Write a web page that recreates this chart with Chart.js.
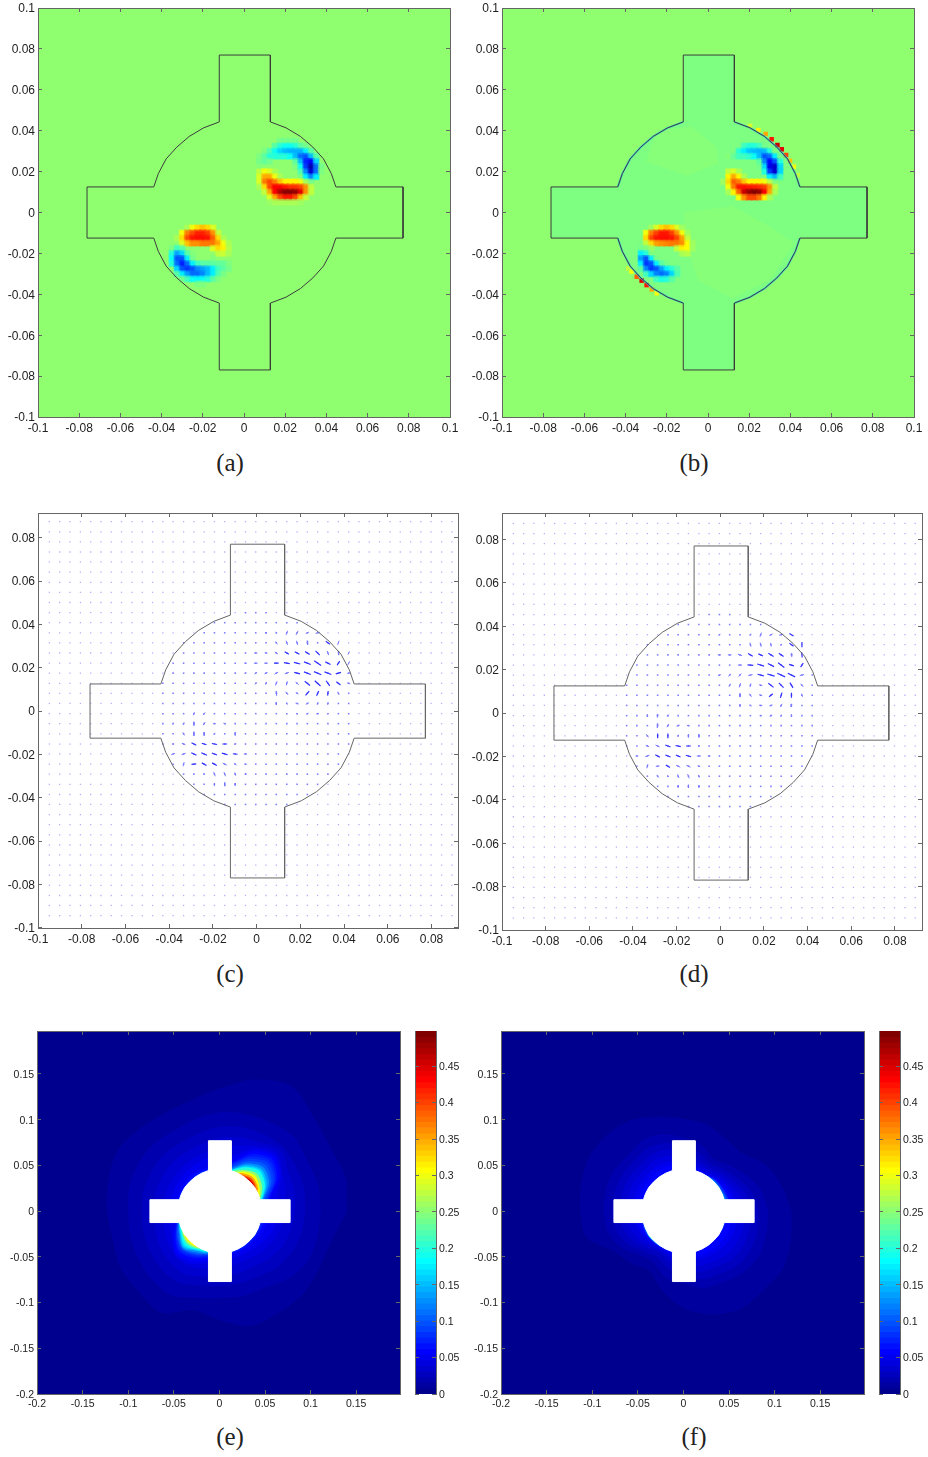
<!DOCTYPE html>
<html>
<head>
<meta charset="utf-8">
<title>chart</title>
<script src="https://cdn.jsdelivr.net/npm/chart.js@4"></script>
<style>
  body { margin: 0; background: #fff; }
  #page { position: relative; width: 928px; height: 1457px; overflow: hidden; }
  canvas { position: absolute; }
  .cap { position: absolute; width: 60px; text-align: center; font: 25px "Liberation Serif", serif; color: #222; }
</style>
</head>
<body>
<div id="page"></div>
<script>
// tick labels
const ticksAB = [-0.1, -0.08, -0.06, -0.04, -0.02, 0, 0.02, 0.04, 0.06, 0.08, 0.1];
const ticksCDx = [-0.1, -0.08, -0.06, -0.04, -0.02, 0, 0.02, 0.04, 0.06, 0.08];
const ticksCDy = [-0.1, -0.08, -0.06, -0.04, -0.02, 0, 0.02, 0.04, 0.06, 0.08];
const ticksEF = [-0.2, -0.15, -0.1, -0.05, 0, 0.05, 0.1, 0.15];
const ticksBar = [0, 0.05, 0.1, 0.15, 0.2, 0.25, 0.3, 0.35, 0.4, 0.45];
const captions = ['(a)', '(b)', '(c)', '(d)', '(e)', '(f)'];

// device outline
const outlineX = [-0.012,0.0128,0.0128,0.0204,0.0274,0.0334,0.0386,0.0424,0.0446,0.0772,0.0772,0.0446,0.0424,0.0386,0.0334,0.0274,0.0204,0.0128,0.0128,-0.012,-0.012,-0.0196,-0.0266,-0.0326,-0.0378,-0.0416,-0.0438,-0.0762,-0.0762,-0.0438,-0.0416,-0.0378,-0.0326,-0.0266,-0.0196,-0.012,-0.012];
const outlineY = [0.077,0.077,0.0443,0.0414,0.0372,0.032,0.0262,0.019,0.0125,0.0125,-0.0125,-0.0125,-0.019,-0.0262,-0.032,-0.0372,-0.0414,-0.0443,-0.077,-0.077,-0.0443,-0.0414,-0.0372,-0.032,-0.0262,-0.019,-0.0125,-0.0125,0.0125,0.0125,0.019,0.0262,0.032,0.0372,0.0414,0.0443,0.077];

// field cells of panels a and b, sign scale -1..1
const colsTR = [0.0075,0.01,0.0125,0.015,0.0175,0.02,0.0225,0.025,0.0275,0.03,0.0325,0.035,0.0375];
const rowsTR = [0.035,0.0325,0.03,0.0275,0.025,0.0225,0.02,0.0175,0.015,0.0125,0.01,0.0075,0.005];
const colsLL = [-0.035,-0.0325,-0.03,-0.0275,-0.025,-0.0225,-0.02,-0.0175,-0.015,-0.0125,-0.01,-0.0075,-0.005];
const rowsLL = [-0.0075,-0.01,-0.0125,-0.015,-0.0175,-0.02,-0.0225,-0.025,-0.0275,-0.03,-0.0325,-0.035];

const fieldA_TR = [
  [0,0,0,0,-.05,-.05,-.05,-.05,0,0,0,0,0],
  [0,0,0,-.1,-.2,-.25,-.25,-.2,-.1,-.05,0,0,0],
  [0,-.03,-.12,-.25,-.35,-.4,-.42,-.42,-.42,-.3,-.1,0,0],
  [-.03,-.1,-.2,-.2,-.2,-.2,-.25,-.4,-.55,-.6,-.4,-.1,0],
  [-.05,-.08,-.05,0,0,0,0,-.1,-.4,-.7,-.75,-.35,0],
  [-.02,0,0,0,0,0,0,-.03,-.25,-.65,-.9,-.55,-.05],
  [.1,.2,.15,.05,0,0,0,0,-.12,-.5,-.85,-.55,-.03],
  [.15,.4,.4,.2,.05,0,0,0,-.03,-.3,-.5,-.3,0],
  [.15,.5,.6,.5,.35,.25,.25,.25,.2,.05,-.05,0,0],
  [.05,.3,.6,.75,.75,.7,.65,.65,.6,.45,.1,0,0],
  [0,.1,.4,.75,.9,.98,.98,.95,.8,.45,.1,0,0],
  [0,0,.15,.4,.6,.7,.7,.6,.35,.1,0,0,0],
  [0,0,.02,.05,.05,.05,.05,.05,.03,0,0,0,0]
];
const fieldA_LL = [
  [0,0,0,.05,.2,.3,.35,.3,.15,0,0,0,0],
  [0,0,.2,.5,.6,.68,.68,.62,.45,.1,0,0,0],
  [0,.05,.3,.6,.7,.72,.72,.7,.55,.3,.05,0,0],
  [0,0,.15,.35,.45,.45,.5,.5,.5,.4,.2,.05,0],
  [-.03,-.15,-.1,0,0,0,0,0,.15,.3,.25,.08,0],
  [-.2,-.45,-.35,-.1,-.02,0,0,0,0,.1,.12,.05,0],
  [-.25,-.6,-.6,-.3,-.05,0,0,0,-.02,0,0,0,0],
  [-.2,-.55,-.7,-.55,-.3,-.15,-.1,-.1,-.1,-.08,-.08,-.03,0],
  [0,-.35,-.6,-.65,-.6,-.5,-.45,-.4,-.3,-.15,-.1,-.05,0],
  [0,-.1,-.3,-.45,-.55,-.55,-.5,-.4,-.3,-.12,-.04,0,0],
  [0,0,-.05,-.15,-.25,-.28,-.25,-.2,-.1,-.03,0,0,0],
  [0,0,0,0,0,-.03,-.03,0,0,0,0,0,0]
];
const fieldB_TR = [
  [0,0,0,0,0,0,0,0,0,0,0,0,0],
  [0,0,0,-.03,-.15,-.2,-.2,-.15,-.05,0,0,0,0],
  [0,0,-.03,-.2,-.3,-.38,-.4,-.42,-.4,-.2,-.03,0,0],
  [0,-.02,-.08,-.15,-.15,-.18,-.25,-.4,-.6,-.55,-.3,-.05,0],
  [0,0,0,0,0,0,0,-.1,-.5,-.75,-.6,-.2,0],
  [0,0,0,0,0,0,0,-.05,-.35,-.8,-.85,-.35,0],
  [0,.1,.15,.05,0,0,0,0,-.2,-.65,-.85,-.35,0],
  [0,.25,.4,.25,.05,0,0,0,0,-.3,-.4,-.15,0],
  [.03,.3,.55,.5,.35,.25,.25,.25,.2,.1,-.03,0,0],
  [0,.2,.5,.7,.72,.7,.68,.66,.62,.45,.1,0,0],
  [0,.05,.25,.55,.85,.95,1,.95,.75,.4,.05,0,0],
  [0,0,0,.2,.45,.6,.6,.5,.25,.05,0,0,0],
  [0,0,0,0,0,0,0,0,0,0,0,0,0]
];
const fieldB_LL = [
  [0,0,0,.03,.15,.3,.35,.3,.15,.03,0,0,0],
  [0,0,.2,.5,.62,.7,.7,.62,.45,.2,.03,0,0],
  [0,0,.3,.6,.7,.72,.72,.7,.6,.42,.1,0,0],
  [0,0,.1,.3,.42,.45,.48,.5,.5,.45,.22,.03,0],
  [0,-.05,-.03,.03,0,0,0,0,.1,.25,.22,.03,0],
  [0,-.3,-.2,-.03,0,0,0,0,0,.05,.08,0,0],
  [0,-.45,-.6,-.3,-.05,0,0,0,0,0,0,0,0],
  [0,-.3,-.65,-.6,-.3,-.1,-.05,-.03,0,0,0,0,0],
  [0,-.1,-.5,-.65,-.6,-.45,-.3,-.2,-.1,0,0,0,0],
  [0,0,-.15,-.35,-.5,-.55,-.5,-.35,-.12,0,0,0,0],
  [0,0,0,0,-.15,-.22,-.2,-.1,0,0,0,0,0],
  [0,0,0,0,0,0,0,0,0,0,0,0,0]
];
// hot spots hugging the wall in panel b: x, y, value
const wallCellsB = [
  [.0204,.0423,.15],[.0244,.0403,.25],[.028,.0384,.4],[.0309,.0358,.7],[.0337,.033,.85],[.0358,.0309,.8],[.0379,.0281,.6],[.0398,.0253,.35],[.0417,.0224,.2],[.0435,.0183,.1],
  [-.0387,-.0273,.1],[-.0371,-.0289,.2],[-.0346,-.0314,.55],[-.0322,-.0333,.8],[-.0298,-.0355,.7],[-.0273,-.0376,.4],[-.0249,-.0395,.2]
];
// lighter patches inside the cavity of panel b
const patchBX = [-.012,.012,.03,.042,.03,.012,-.005,-.01];
const patchBY = [0,.003,-.007,-.015,-.033,-.042,-.033,-.017];
const patchB2X = [-.025,-.008,.004,.005,-.01,-.03];
const patchB2Y = [.04,.042,.032,.024,.018,.025];

// sampling lattice of the vector plots
const gridX = [-.0948,-.0901,-.0854,-.0806,-.0759,-.0712,-.0665,-.0618,-.057,-.0523,-.0476,-.0429,-.0382,-.0334,-.0287,-.024,-.0193,-.0146,-.0098,-.0051,-.0004,.0043,.009,.0138,.0185,.0232,.0279,.0326,.0374,.0421,.0468,.0515,.0562,.061,.0657,.0704,.0751,.0798,.0846,.0893];
const gridY = [.0874,.0827,.0781,.0734,.0688,.0641,.0594,.0548,.0501,.0454,.0408,.0361,.0315,.0268,.0221,.0175,.0128,.0082,.0035,-.0012,-.0058,-.0105,-.0152,-.0198,-.0245,-.0291,-.0338,-.0385,-.0431,-.0478,-.0524,-.0571,-.0618,-.0664,-.0711,-.0757,-.0804,-.0851,-.0897,-.0944];
// strong arrows: column, row (inside the cavity window), u, v (v read downward)
const arrowsC = [
[11,3,0,3],[12,3,-3,-3],[13,3,-3,8],[14,3,-4,8],[15,3,-6,3],[16,3,-8,2],
[12,4,-5,-5],[13,4,3,8],[14,4,2,8],[15,4,1,8],[17,4,-8,-6],[18,4,-3,8],
[10,5,-6,0],[11,5,-5,-1],[12,5,-6,-4],[13,5,-8,-5],[14,5,-9,-5],[15,5,-9,-6],[16,5,-8,-8],[17,5,3,8],[18,5,1,8],[19,5,-3,6],
[9,6,-4,0],[10,6,-7,0],[11,6,-7,0],[12,6,-9,0],[13,6,-11,-2],[14,6,-12,-3],[15,6,-13,-5],[16,6,-13,-9],[17,6,-10,-5],[18,6,5,-8],[19,6,4,-7],
[9,7,-3,2],[10,7,-5,3],[11,7,-6,3],[12,7,-7,4],[13,7,8,-3],[14,7,11,3],[15,7,13,5],[16,7,14,6],[17,7,13,5],[18,7,10,-3],[19,7,5,-1],
[10,8,-3,4],[11,8,-2,5],[12,8,-3,8],[13,8,-2,8],[14,8,6,5],[15,8,10,8],[16,8,11,10],[17,8,7,10],[18,8,8,6],[19,8,6,2],
[12,9,1,8],[13,9,5,6],[14,9,5,3],[15,9,-7,8],[16,9,-4,9],[17,9,-1,9],[18,9,3,6],
[12,10,0,5],[13,10,3,3],[14,10,6,2],[15,10,-6,3],[16,10,-2,5],[17,10,-1,5],
[14,11,3,1],[15,11,-4,2],[16,11,-5,1],[17,11,-2,2],
[4,11,-2,6],[5,11,-4,5],
[2,12,-2,2],[3,12,-2,5],[4,12,0,7],[5,12,-4,6],[6,12,-5,0],[7,12,-5,-2],
[3,13,3,6],[4,13,0,8],[5,13,0,7],[6,13,-3,2],[8,13,0,6],
[2,14,-4,0],[3,14,-7,-3],[4,14,-9,-5],[5,14,-9,-3],[6,14,-10,-2],[7,14,-9,0],[8,14,-4,1],
[2,15,7,-3],[3,15,8,-3],[4,15,10,5],[5,15,11,5],[6,15,10,4],[7,15,11,3],[8,15,9,1],[9,15,6,0],
[3,16,2,-8],[4,16,9,-1],[5,16,9,5],[6,16,9,5],[7,16,8,4],[8,16,5,3],[9,16,4,1],
[5,17,3,3],[6,17,3,8],[7,17,3,8],[8,17,2,6],[9,17,1,3],
[6,18,0,5],[7,18,0,7],[8,18,0,5]
];
const arrowsD = [
[10,3,-3,3],[13,3,-2,4],[14,3,-3,8],[15,3,-6,3],[16,3,-8,2],[17,3,-8,-5],
[13,4,2,8],[14,4,2,8],[15,4,1,7],[16,4,-3,3],[17,4,-8,-6],[18,4,0,10],
[10,5,-6,0],[11,5,-7,0],[12,5,-8,-3],[13,5,-9,-5],[14,5,-9,-4],[15,5,-10,-6],[16,5,-9,-6],[17,5,1,6],[18,5,1,10],
[12,6,-8,0],[13,6,-11,-1],[14,6,-13,-4],[15,6,-12,-6],[16,6,-12,-9],[17,6,-9,-3],[18,6,5,-8],
[10,7,-5,2],[11,7,-5,5],[12,7,-5,6],[13,7,8,-2],[14,7,12,3],[15,7,14,4],[16,7,15,7],[17,7,14,7],[18,7,8,-2],
[11,8,-3,6],[12,8,-3,8],[13,8,-2,7],[14,8,6,2],[15,8,10,8],[16,8,9,9],[17,8,6,10],[18,8,5,6],
[12,9,0,7],[13,9,4,6],[14,9,6,2],[15,9,-7,6],[16,9,-3,10],[17,9,0,10],[18,9,2,6],
[12,10,0,4],[13,10,4,2],[14,10,6,1],[15,10,-6,2],[16,10,-3,6],[17,10,-1,6],
[14,11,4,0],[15,11,-5,2],[16,11,-3,3],[17,11,0,4],
[3,11,0,4],[4,11,-1,6],[5,11,-3,4],
[4,12,-1,8],[5,12,-4,6],[6,12,-6,2],[7,12,-5,-1],
[3,13,4,6],[4,13,0,9],[5,13,0,9],[6,13,-1,4],[7,13,0,6],[8,13,0,6],
[3,14,-6,-3],[4,14,-8,-4],[5,14,-10,-4],[6,14,-10,-2],[7,14,-9,0],[8,14,-4,1],
[2,15,-5,0],[3,15,8,-3],[4,15,9,5],[5,15,10,4],[6,15,9,4],[7,15,10,3],[8,15,8,0],[9,15,5,0],
[3,16,2,-8],[4,16,7,-1],[5,16,8,5],[6,16,8,4],[7,16,8,4],[8,16,5,2],
[4,17,3,5],[5,17,3,2],[6,17,3,7],[7,17,3,8],[8,17,2,5],
[6,18,0,4],[7,18,0,6],[8,18,0,4]
];

// filled contour bands of panels e and f: radius every 15 degrees from +x, counter-clockwise
const levelsE = [
  [.0078,[.140,.143,.140,.146,.158,.149,.134,.125,.123,.126,.130,.126,.123,.121,.125,.125,.128,.112,.119,.130,.129,.129,.126,.127]],
  [.0156,[.111,.112,.111,.115,.112,.110,.108,.104,.101,.103,.103,.102,.100,.101,.103,.105,.106,.098,.095,.096,.097,.105,.111,.111]],
  [.0234,[.094,.096,.097,.099,.097,.095,.092,.088,.086,.087,.086,.086,.085,.086,.088,.090,.090,.084,.082,.082,.083,.088,.091,.093]],
  [.031,[.083,.085,.087,.095,.087,.084,.080,.076,.074,.074,.073,.073,.072,.073,.076,.078,.079,.074,.072,.071,.071,.075,.079,.081]],
  [.039,[.073,.075,.080,.090,.082,.074,.069,.066,.064,.063,.062,.062,.062,.063,.066,.069,.069,.065,.063,.061,.061,.064,.067,.070]],
  [.047,[.066,.066,.078,.087,.079,.064,.062,.059,.057,.056,.055,.055,.055,.056,.060,.068,.066,.059,.056,.054,.054,.056,.060,.063]],
  [.055,[.056,.059,.076,.084,.076,.057,.050,.050,.050,.050,.049,.049,.049,.050,.058,.066,.062,.056,.050,.049,.049,.050,.052,.054]],
  [.065,[.052,.057,.073,.081,.072,.055,.050,.048,.048,.047,.047,.047,.047,.049,.056,.063,.059,.053,.049,.048,.048,.048,.049,.050]],
  [.075,[.050,.056,.071,.078,.069,.054,.050,.047,.047,.046,.046,.046,.046,.048,.055,.061,.057,.051,.047,.047,.047,.047,.047,.048]],
  [.085,[.048,.054,.069,.075,.066,.052,.048,.046,.046,.046,.046,.046,.046,.048,.054,.059,.055,.050,.046,.046,.046,.046,.046,.046]],
  [.1,[.046,.052,.066,.0715,.063,.050,.047,.045,.045,.045,.045,.045,.045,.047,.053,.058,.054,.049,.045,.045,.045,.045,.045,.045]],
  [.125,[.045,.050,.063,.068,.060,.048,.045,.04,.04,.04,.04,.04,.04,.046,.051,.057,.052,.048,.04,.04,.04,.04,.04,.04]],
  [.15,[.045,.049,.060,.065,.058,.047,.045,.04,.04,.04,.04,.04,.04,.046,.050,.056,.050,.047,.04,.04,.04,.04,.04,.04]],
  [.175,[.04,.048,.058,.063,.056,.046,.04,.04,.04,.04,.04,.04,.04,.045,.049,.054,.049,.046,.04,.04,.04,.04,.04,.04]],
  [.2,[.04,.047,.057,.061,.055,.045,.04,.04,.04,.04,.04,.04,.04,.045,.048,.052,.048,.045,.04,.04,.04,.04,.04,.04]],
  [.25,[.04,.046,.054,.058,.052,.045,.04,.04,.04,.04,.04,.04,.04,.04,.047,.050,.047,.04,.04,.04,.04,.04,.04,.04]],
  [.3,[.04,.045,.051,.055,.050,.04,.04,.04,.04,.04,.04,.04,.04,.04,.046,.048,.046,.04,.04,.04,.04,.04,.04,.04]],
  [.35,[.04,.04,.049,.052,.048,.04,.04,.04,.04,.04,.04,.04,.04,.04,.04,.04,.04,.04,.04,.04,.04,.04,.04,.04]],
  [.4,[.04,.04,.047,.05,.046,.04,.04,.04,.04,.04,.04,.04,.04,.04,.04,.04,.04,.04,.04,.04,.04,.04,.04,.04]],
  [.45,[.04,.04,.046,.048,.045,.04,.04,.04,.04,.04,.04,.04,.04,.04,.04,.04,.04,.04,.04,.04,.04,.04,.04,.04]]
];
const levelsF = [
  [.0078,[.1185,.111,.103,.090,.092,.098,.101,.107,.115,.118,.119,.116,.113,.110,.088,.081,.075,.090,.106,.117,.124,.123,.126,.122]],
  [.0156,[.093,.088,.079,.071,.066,.075,.080,.087,.089,.086,.088,.088,.087,.086,.079,.068,.065,.075,.079,.087,.089,.094,.096,.094]],
  [.0234,[.083,.078,.070,.064,.060,.066,.072,.077,.079,.077,.078,.078,.078,.077,.071,.062,.058,.065,.070,.077,.079,.084,.085,.084]],
  [.031,[.075,.071,.064,.059,.055,.060,.065,.070,.071,.069,.070,.070,.070,.069,.064,.057,.053,.058,.063,.069,.071,.075,.076,.075]],
  [.039,[.068,.065,.059,.055,.052,.055,.059,.063,.064,.062,.063,.063,.063,.062,.058,.053,.050,.053,.057,.062,.064,.067,.068,.068]],
  [.047,[.060,.059,.055,.052,.049,.051,.054,.056,.057,.056,.056,.056,.056,.055,.052,.050,.048,.050,.052,.055,.056,.058,.060,.060]],
  [.055,[.054,.055,.052,.050,.047,.049,.051,.052,.052,.051,.051,.051,.051,.051,.050,.048,.047,.048,.049,.051,.052,.053,.054,.054]],
  [.075,[.048,.051,.050,.049,.046,.046,.047,.046,.046,.046,.046,.046,.046,.047,.048,.047,.046,.046,.046,.046,.046,.046,.047,.048]],
  [.1,[.045,.049,.048,.048,.046,.04,.04,.04,.04,.04,.04,.04,.04,.045,.047,.047,.046,.04,.04,.04,.04,.04,.04,.04]],
  [.15,[.04,.047,.047,.047,.045,.04,.04,.04,.04,.04,.04,.04,.04,.045,.046,.046,.045,.04,.04,.04,.04,.04,.04,.04]],
  [.2,[.04,.046,.046,.046,.04,.04,.04,.04,.04,.04,.04,.04,.04,.04,.046,.046,.04,.04,.04,.04,.04,.04,.04,.04]]
];

const tickColor = '#222';
const frameColor = '#666';

function jet(t, alpha) {
  const c = (a) => Math.round(255 * Math.max(0, Math.min(1, 1.5 - Math.abs(4 * t - a))));
  return 'rgba(' + c(3) + ',' + c(2) + ',' + c(1) + ',' + (alpha === undefined ? 1 : alpha) + ')';
}
// panels a/b use a signed field whose zero sits on the light green
function signedColor(v, alpha) {
  return jet(v > 0 ? 0.515 + v * 0.485 : 0.515 + v * 0.515, alpha);
}
function speedColor(v) {
  return jet(v / 0.5 + 1 / 64);
}

// paints the plot background
const panelFill = {
  id: 'panelFill',
  beforeDatasetsDraw(chart, args, opts) {
    const a = chart.chartArea;
    chart.ctx.fillStyle = opts.color;
    chart.ctx.fillRect(a.left, a.top, a.right - a.left, a.bottom - a.top);
  }
};

function cellsFromMatrix(cols, rows, m) {
  const out = [];
  rows.forEach((y, r) => cols.forEach((x, c) => {
    if (m[r][c] !== 0) out.push({ x: x, y: y, v: m[r][c] });
  }));
  return out;
}
function cellDataset(cells, radius, alpha) {
  return {
    data: cells,
    pointStyle: 'rect',
    pointRadius: radius,
    pointBorderWidth: 0,
    pointBackgroundColor: cells.map(p => signedColor(p.v, alpha))
  };
}
// opaque cells with a wider translucent pass on top, softens the block edges
function softCells(cells) {
  return [cellDataset(cells, 5, 0.45), cellDataset(cells, 3.9)];
}
function polygon(xs, ys, extra) {
  return Object.assign({
    data: xs.map((x, i) => ({ x: x, y: ys[i] })),
    showLine: true,
    pointRadius: 0,
    borderWidth: 1,
    borderColor: '#333'
  }, extra);
}
function outlineDataset(color) {
  return polygon(outlineX, outlineY, { borderColor: color || '#3c3c3c', borderJoinStyle: 'miter' });
}
// the four curved stretches of the outline, with gaps between them
function wallArcs() {
  const out = [];
  [[2, 8], [11, 17], [20, 26], [29, 35]].forEach(([a, b]) => {
    for (let i = a; i <= b; i++) out.push({ x: outlineX[i], y: outlineY[i] });
    out.push({ x: NaN, y: NaN });
  });
  return { data: out, showLine: true, spanGaps: false, pointRadius: 0, borderWidth: 2, borderColor: 'rgba(40,190,235,0.7)' };
}
function contourDatasets(levels) {
  // first band ends up on top, so the hottest goes first
  return levels.slice().reverse().map(([v, radii]) => {
    const pts = radii.map((r, i) => ({ x: r * Math.cos(i * Math.PI / 12), y: r * Math.sin(i * Math.PI / 12) }));
    pts.push(pts[0]);
    return {
      data: pts, showLine: true, pointRadius: 0, borderWidth: 0, tension: 0.3,
      fill: 'shape', backgroundColor: speedColor(v)
    };
  });
}
function quiverDatasets(arrows, strongColor) {
  const strong = [], weak = [];
  arrows.forEach(([i, j, u, v]) => {
    const x = gridX[i + 10], y = gridY[j + 8];
    const k = 0.00024;
    const list = Math.hypot(u, v) >= 9 ? strong : weak;
    list.push({ x: x - u * k / 2, y: y + v * k / 2 }, { x: x + u * k / 2, y: y - v * k / 2 }, { x: NaN, y: NaN });
  });
  const dots = [], innerDots = [];
  gridY.forEach(y => gridX.forEach(x => (Math.hypot(x, y) < 0.046 ? innerDots : dots).push({ x: x, y: y })));
  return [
    { data: strong, showLine: true, spanGaps: false, pointRadius: 0, borderWidth: 1.2, borderColor: strongColor },
    { data: weak, showLine: true, spanGaps: false, pointRadius: 0, borderWidth: 1, borderColor: '#7a7aff' },
    { data: innerDots, pointStyle: 'rect', pointRadius: 1.1, pointBorderWidth: 0, pointBackgroundColor: '#7c7cff' },
    { data: dots, pointStyle: 'rect', pointRadius: 0.9, pointBorderWidth: 0, pointBackgroundColor: '#b0b0ff' }
  ];
}

function axis(pos, min, max, ticks, fontSize, labelled, size) {
  return {
    type: 'linear', position: pos, min: min, max: max, offset: false,
    afterBuildTicks: (s) => { s.ticks = ticks.map(v => ({ value: v })); },
    afterFit: (s) => {
      if (s.isHorizontal()) s.height = size; else s.width = size;
      // keep tick labels from pushing the plot box in
      s.paddingLeft = s.paddingRight = s.paddingTop = s.paddingBottom = 0;
    },
    border: { color: frameColor, z: 1 },
    grid: { drawOnChartArea: false, tickLength: -4, color: frameColor, z: 1, offset: false },
    ticks: {
      z: 1, autoSkip: false, maxRotation: 0,
      padding: pos === 'bottom' ? 8 : 7,
      labelOffset: pos === 'left' || pos === 'right' ? 1 : 0,
      color: tickColor,
      font: { family: '"Liberation Sans", sans-serif', size: fontSize },
      callback: (v) => labelled ? String(v) : ''
    }
  };
}

function addCanvas(left, top, width, height) {
  const c = document.createElement('canvas');
  c.width = width; c.height = height;
  c.style.left = left + 'px'; c.style.top = top + 'px';
  c.style.width = width + 'px'; c.style.height = height + 'px';
  document.getElementById('page').appendChild(c);
  return c.getContext('2d');
}

// l,t,r,b are the plot box on the page
function panel(box, xr, yr, xt, yt, fontSize, bg, datasets) {
  const [l, t, r, b] = box;
  const ctx = addCanvas(l - 38, t - 6, r - l + 46, b - t + 30);
  new Chart(ctx, {
    type: 'scatter',
    data: { datasets: datasets },
    plugins: [panelFill],
    options: {
      responsive: false, animation: false, devicePixelRatio: 1,
      layout: { autoPadding: false, padding: { top: 6, right: 8, left: 0, bottom: 0 } },
      plugins: { legend: { display: false }, tooltip: { enabled: false }, title: { display: false }, panelFill: { color: bg } },
      scales: {
        x: axis('bottom', xr[0], xr[1], xt, fontSize, true, 24),
        y: axis('left', yr[0], yr[1], yt, fontSize, true, 38),
        x2: axis('top', xr[0], xr[1], xt, fontSize, false, 0),
        y2: axis('right', yr[0], yr[1], yt, fontSize, false, 0)
      }
    }
  });
}

function colorbar(box) {
  const [l, t, r, b] = box;
  const ctx = addCanvas(l, t - 6, r - l + 34, b - t + 14);
  const labels = [], colors = [], ones = [];
  for (let k = 0; k < 64; k++) { labels.push(k); colors.push(jet((k + 1) / 64)); ones.push(1); }
  const val = axis('right', 0, 0.4983, ticksBar, 10.5, true, 30);
  const valL = axis('left', 0, 0.4983, ticksBar, 10.5, false, 0);
  new Chart(ctx, {
    type: 'bar',
    data: { labels: labels, datasets: [{ data: ones, backgroundColor: colors, barPercentage: 1, categoryPercentage: 1, yAxisID: 'yc', xAxisID: 'xb' }] },
    options: {
      indexAxis: 'y', responsive: false, animation: false, devicePixelRatio: 1,
      layout: { autoPadding: false, padding: { top: 6, right: 4, left: 0, bottom: 8 } },
      plugins: { legend: { display: false }, tooltip: { enabled: false } },
      scales: {
        xb: { type: 'linear', axis: 'x', display: false, min: 0, max: 1 },
        yc: { type: 'category', axis: 'y', display: false, offset: true, reverse: true },
        val: val, valL: valL
      }
    }
  });
}

function caption(text, cx, cy) {
  const d = document.createElement('div');
  d.className = 'cap';
  d.textContent = text;
  d.style.left = (cx - 30) + 'px';
  d.style.top = (cy - 15) + 'px';
  document.getElementById('page').appendChild(d);
}

const green = '#8fff70';
const whiteCross = () => polygon(outlineX, outlineY, { fill: 'shape', backgroundColor: '#fff', borderColor: '#fff', borderWidth: 1, borderJoinStyle: 'miter' });

panel([38, 8, 450, 417], [-0.1, 0.1], [-0.1, 0.1], ticksAB, ticksAB, 12, green, [
  outlineDataset(),
  ...softCells(cellsFromMatrix(colsTR, rowsTR, fieldA_TR)),
  ...softCells(cellsFromMatrix(colsLL, rowsLL, fieldA_LL))
]);
panel([502, 8, 914, 417], [-0.1, 0.1], [-0.1, 0.1], ticksAB, ticksAB, 12, green, [
  outlineDataset(),
  wallArcs(),
  cellDataset(wallCellsB.map(p => ({ x: p[0], y: p[1], v: p[2] })), 3.2),
  ...softCells(cellsFromMatrix(colsTR, rowsTR, fieldB_TR)),
  ...softCells(cellsFromMatrix(colsLL, rowsLL, fieldB_LL)),
  polygon(patchBX, patchBY, { fill: 'shape', backgroundColor: '#88ff78', borderWidth: 0 }),
  polygon(patchB2X, patchB2Y, { fill: 'shape', backgroundColor: '#88ff78', borderWidth: 0 }),
  polygon(outlineX, outlineY, { fill: 'shape', backgroundColor: '#7eff82', borderWidth: 0 })
]);
panel([38, 513, 458, 928], [-0.1, 0.0921], [-0.1001, 0.0914], ticksCDx, ticksCDy, 12, '#fff',
  [outlineDataset('#666')].concat(quiverDatasets(arrowsC, '#3030ff')));
panel([502, 513, 922, 930], [-0.1, 0.0924], [-0.1, 0.0922], ticksCDx, ticksCDy, 12, '#fff',
  [outlineDataset('#666')].concat(quiverDatasets(arrowsD, '#3030ff')));
panel([37, 1031, 400, 1394], [-0.2, 0.198], [-0.2, 0.197], ticksEF, ticksEF, 10.5, '#00008f',
  [whiteCross()].concat(contourDatasets(levelsE)));
panel([501, 1031, 864, 1394], [-0.2, 0.198], [-0.2, 0.197], ticksEF, ticksEF, 10.5, '#00008f',
  [whiteCross()].concat(contourDatasets(levelsF)));
colorbar([415, 1031, 436, 1394]);
colorbar([879, 1031, 900, 1394]);

caption(captions[0], 230, 464);
caption(captions[1], 694, 464);
caption(captions[2], 230, 975);
caption(captions[3], 694, 975);
caption(captions[4], 230, 1438);
caption(captions[5], 694, 1438);
</script>
</body>
</html>
